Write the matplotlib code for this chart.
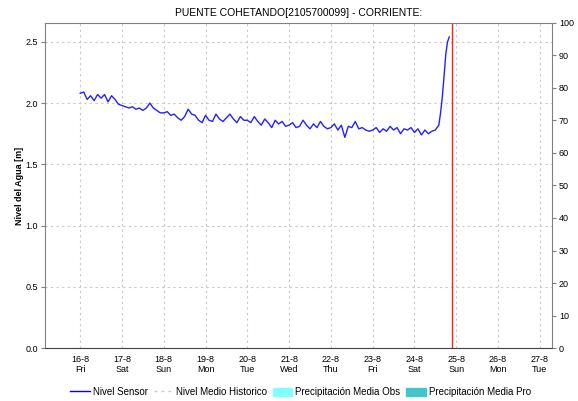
import numpy as np
import pandas as pd
from matplotlib import pyplot as plt
from matplotlib.lines import Line2D
from matplotlib.patches import Patch

plt.rcParams['font.family'] = ['Liberation Sans', 'DejaVu Sans']

# water level readings (m), every 2 hours from 16-8 00:00
base_levels = [
    2.08, 2.09, 2.03, 2.06, 2.02, 2.07, 2.04, 2.07, 2.01, 2.06, 2.03, 1.99,
    1.98, 1.97, 1.96, 1.97, 1.95, 1.96, 1.94, 1.96, 2.00, 1.96, 1.94, 1.92,
    1.92, 1.93, 1.90, 1.91, 1.88, 1.86, 1.89, 1.95, 1.91, 1.90, 1.86, 1.84,
    1.90, 1.86, 1.85, 1.91, 1.87, 1.85, 1.88, 1.91, 1.87, 1.84, 1.89, 1.86,
    1.86, 1.84, 1.89, 1.85, 1.82, 1.87, 1.84, 1.80, 1.86, 1.83, 1.85, 1.81,
    1.82, 1.84, 1.80, 1.81, 1.86, 1.82, 1.79, 1.83, 1.80, 1.85, 1.81, 1.79,
    1.80, 1.83, 1.78, 1.82, 1.72, 1.81, 1.80, 1.85, 1.79, 1.80, 1.78, 1.77,
    1.78, 1.80, 1.76, 1.79, 1.77, 1.81, 1.78, 1.80, 1.75, 1.79, 1.78, 1.80,
    1.76, 1.79, 1.74, 1.78, 1.75, 1.77, 1.78,
]
# the rise at the end, hourly
rise_hours = [206, 207, 208, 209, 210, 211, 212]
rise_levels = [1.82, 1.92, 2.05, 2.22, 2.40, 2.50, 2.54]

start = pd.Timestamp('2024-08-16 00:00')
hours = list(range(0, 2 * len(base_levels), 2)) + rise_hours
levels = base_levels + rise_levels
times = [start + pd.Timedelta(hours=h) for h in hours]

now_time = pd.Timestamp('2024-08-24 21:30')
tick_days = pd.date_range('2024-08-16', '2024-08-27', freq='D')
tick_labels = [f'{d.day}-{d.month}\n{d.strftime("%a")}' for d in tick_days]

fig = plt.figure(figsize=(5.78, 4.01), dpi=100)
ax = fig.add_axes([0.078, 0.132, 0.877, 0.811])

ax.plot(times, levels, color='#2222ff', linewidth=1.0)
ax.axvline(now_time, color='#ff2020', linewidth=1.0)

ax.set_xlim(pd.Timestamp('2024-08-15 03:50'), pd.Timestamp('2024-08-27 07:00'))
ax.set_ylim(0, 2.655)
ax.set_yticks([0, 0.5, 1.0, 1.5, 2.0, 2.5])
ax.set_yticklabels(['0.0', '0.5', '1.0', '1.5', '2.0', '2.5'])
ax.set_xticks(tick_days)
ax.set_xticklabels(tick_labels)
ax.grid(True, color='#c8c8c8', linestyle=(0, (2, 3)), linewidth=0.8)

ax.tick_params(labelsize=6.5, length=3, color='#808080', pad=2)
ax.tick_params(axis='x', length=0, pad=5)
for s in ax.spines.values():
    s.set_color('#808080')
ax.spines['bottom'].set_linestyle((0, (1, 1)))
ax.spines['bottom'].set_color('#404040')
ax.set_ylabel('Nivel del Agua [m]', fontsize=6.5, fontweight='bold', labelpad=1)
ax.set_title('PUENTE COHETANDO[2105700099] - CORRIENTE:', fontsize=7.5, pad=5)

ax2 = ax.twinx()
ax2.set_ylim(0, 100)
ax2.set_yticks(range(0, 101, 10))
ax2.tick_params(labelsize=6.5, length=3, color='#808080', pad=2)
for s in ax2.spines.values():
    s.set_visible(False)

handles = [
    Line2D([], [], color='#0000ff', linewidth=1.0),
    Line2D([], [], color='#c8c8c8', linestyle=(0, (2, 3)), linewidth=1.0),
    Patch(color='#80ffff'),
    Patch(color='#40c8c8'),
]
labels = ['Nivel Sensor', 'Nivel Medio Historico', 'Precipitación Media Obs', 'Precipitación Media Pro']
fig.legend(handles, labels, loc='center', bbox_to_anchor=(0.52, 0.022), ncol=4, frameon=False,
           fontsize=7, handlelength=2.0, handletextpad=0.3, columnspacing=0.6,
           handleheight=0.9)

fig.savefig('out.png', dpi=100)
